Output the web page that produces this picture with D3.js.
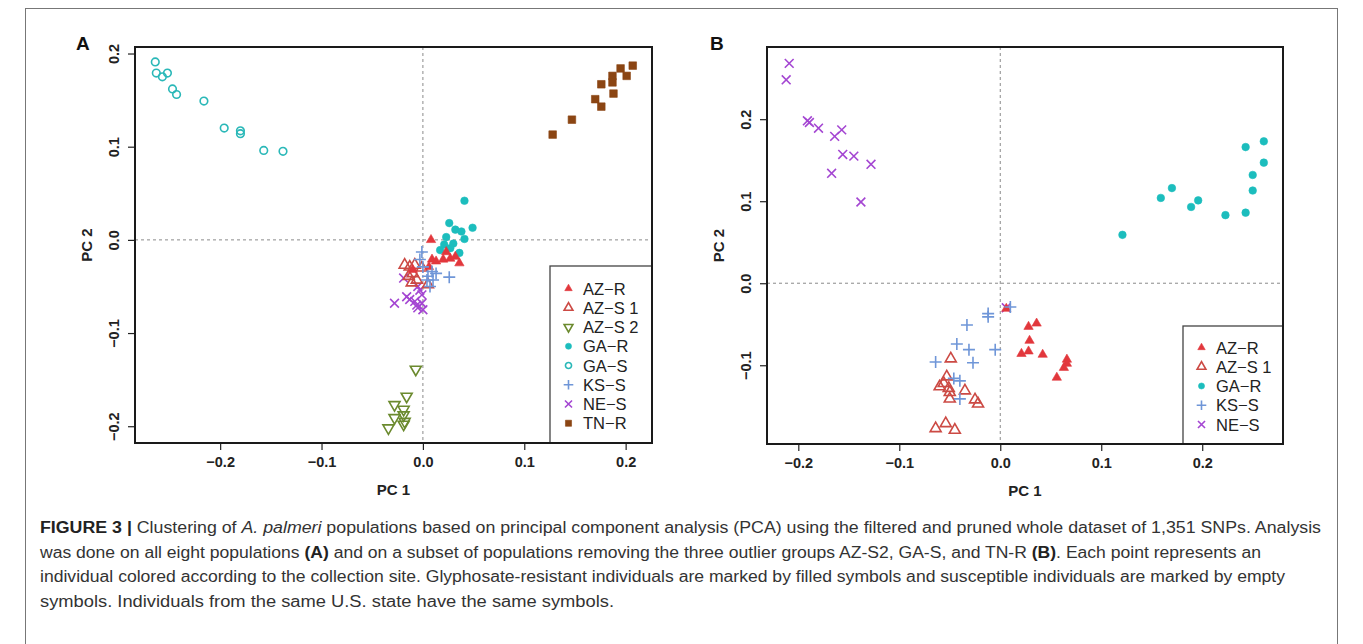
<!DOCTYPE html>
<html><head><meta charset="utf-8">
<script src="https://cdn.jsdelivr.net/npm/d3@7"></script>
<style>html,body{margin:0;padding:0;background:#fff;}svg{display:block;}
.f{font-family:'Liberation Sans',Arial,Helvetica,sans-serif;}
.cap{font-family:'Liberation Sans Narrow','Liberation Sans',Arial,sans-serif;}
</style>
</head><body>
<svg id="c" width="1363" height="644"></svg>
<script>
// ---------------- DATA ----------------
const xTicks = [-0.2, -0.1, 0.0, 0.1, 0.2];
const yTicks = [-0.2, -0.1, 0.0, 0.1, 0.2];
const legendA = ["AZ-R", "AZ-S 1", "AZ-S 2", "GA-R", "GA-S", "KS-S", "NE-S", "TN-R"];
const legendB = ["AZ-R", "AZ-S 1", "GA-R", "KS-S", "NE-S"];

// Panel A (all eight populations): [PC1, PC2]
const A_GA_S = [[-0.264,0.191],[-0.263,0.179],[-0.257,0.175],[-0.252,0.179],[-0.247,0.162],[-0.243,0.156],
  [-0.216,0.149],[-0.196,0.120],[-0.180,0.117],[-0.180,0.114],[-0.157,0.096],[-0.138,0.095]];
const A_TN_R = [[0.128,0.113],[0.147,0.129],[0.170,0.151],[0.176,0.143],[0.176,0.167],[0.187,0.176],
  [0.187,0.169],[0.188,0.157],[0.195,0.184],[0.201,0.176],[0.207,0.187]];
const A_AZ_S2 = [[-0.007,-0.139],[-0.016,-0.168],[-0.028,-0.177],[-0.019,-0.182],[-0.028,-0.191],
  [-0.019,-0.188],[-0.018,-0.195],[-0.034,-0.202],[-0.019,-0.198]];
const A_GA_R = [[0.041,0.042],[0.026,0.018],[0.032,0.011],[0.038,0.009],[0.049,0.013],[0.041,0.001],
  [0.023,0.003],[0.030,-0.004],[0.017,-0.011],[0.036,-0.014],[0.027,-0.009],[0.021,-0.005]];
const A_AZ_R = [[0.008,0.000],[0.009,-0.021],[0.023,-0.013],[0.027,-0.020],[0.036,-0.025],[0.020,-0.021],
  [0.032,-0.018],[0.013,-0.023],[0.006,-0.029],[-0.010,-0.032]];
const A_AZ_S1 = [[-0.018,-0.027],[-0.013,-0.029],[-0.010,-0.036],[-0.014,-0.039],[-0.006,-0.043],
  [0.005,-0.048],[-0.001,-0.030],[-0.008,-0.027],[-0.011,-0.046]];
const A_KS_S = [[-0.001,-0.013],[0.000,-0.029],[0.009,-0.034],[0.013,-0.036],[0.026,-0.040],[0.005,-0.039],
  [0.004,-0.043],[0.010,-0.043],[-0.003,-0.021],[0.007,-0.050]];
const A_NE_S = [[-0.028,-0.068],[-0.019,-0.041],[-0.016,-0.061],[-0.013,-0.064],[-0.008,-0.066],[-0.005,-0.073],
  [-0.003,-0.054],[-0.001,-0.059],[-0.006,-0.070],[-0.001,-0.068],[-0.005,-0.050],[0.000,-0.075]];

// Panel B (subset of five populations): [PC1, PC2]
const B_NE_S = [[-0.209,0.268],[-0.212,0.248],[-0.191,0.198],[-0.189,0.196],[-0.180,0.189],[-0.157,0.187],
  [-0.164,0.179],[-0.156,0.157],[-0.145,0.155],[-0.128,0.145],[-0.167,0.134],[-0.138,0.099],[0.006,-0.030]];
const B_GA_R = [[0.121,0.059],[0.159,0.104],[0.170,0.116],[0.189,0.093],[0.196,0.101],[0.223,0.083],
  [0.243,0.086],[0.250,0.113],[0.250,0.132],[0.243,0.166],[0.261,0.173],[0.261,0.147]];
const B_AZ_S1 = [[-0.049,-0.092],[-0.053,-0.114],[-0.060,-0.126],[-0.051,-0.128],[-0.050,-0.133],[-0.035,-0.131],
  [-0.050,-0.141],[-0.025,-0.142],[-0.022,-0.147],[-0.064,-0.177],[-0.054,-0.171],[-0.045,-0.179],[-0.056,-0.122]];
const B_AZ_R = [[0.006,-0.031],[0.028,-0.053],[0.036,-0.049],[0.029,-0.070],[0.021,-0.086],[0.028,-0.083],
  [0.042,-0.087],[0.066,-0.093],[0.066,-0.098],[0.063,-0.103],[0.056,-0.115]];
const B_KS_S = [[0.010,-0.029],[-0.012,-0.037],[-0.012,-0.041],[-0.033,-0.051],[-0.043,-0.074],[-0.031,-0.081],
  [-0.005,-0.081],[-0.064,-0.096],[-0.027,-0.097],[-0.046,-0.116],[-0.040,-0.119],[-0.040,-0.141]];

// ---------------- STYLES ----------------
const style = {
  "AZ-R":   {shape:"tri",  fill:true,  color:"#e2373c"},
  "AZ-S 1": {shape:"tri",  fill:false, color:"#cc4a44"},
  "AZ-S 2": {shape:"triD", fill:false, color:"#6b8a2e"},
  "GA-R":   {shape:"circ", fill:true,  color:"#1cbdbd"},
  "GA-S":   {shape:"circ", fill:false, color:"#2ab8b8"},
  "KS-S":   {shape:"plus", fill:false, color:"#6f96d8"},
  "NE-S":   {shape:"x",    fill:false, color:"#a446d2"},
  "TN-R":   {shape:"sq",   fill:true,  color:"#8b4513"}
};
const MINUS = "\u2212";
const fmt = v => (v < 0 ? MINUS : "") + Math.abs(v).toFixed(1);
const lab = s => s.replace("-", MINUS);

const svg = d3.select("#c");

function symPath(shape, cx, cy, k) {
  const p = d3.path();
  if (shape === "tri" || shape === "triD") {
    const s = 11 * k, h = s * Math.sqrt(3) / 2, d = shape === "tri" ? 1 : -1;
    p.moveTo(cx, cy - d * h * 2 / 3); p.lineTo(cx - s / 2, cy + d * h / 3); p.lineTo(cx + s / 2, cy + d * h / 3); p.closePath();
  } else if (shape === "circ") {
    const r = 3.8 * k; p.moveTo(cx + r, cy); p.arc(cx, cy, r, 0, 2 * Math.PI);
  } else if (shape === "plus") {
    const r = 6 * k; p.moveTo(cx - r, cy); p.lineTo(cx + r, cy); p.moveTo(cx, cy - r); p.lineTo(cx, cy + r);
  } else if (shape === "x") {
    const r = 4.4 * k; p.moveTo(cx - r, cy - r); p.lineTo(cx + r, cy + r); p.moveTo(cx - r, cy + r); p.lineTo(cx + r, cy - r);
  } else if (shape === "sq") {
    const r = 3.8 * k; p.rect(cx - r, cy - r, 2 * r, 2 * r);
  }
  return p.toString();
}
function drawSym(g, name, cx, cy, k) {
  const st = style[name];
  const f = st.fill ? st.color : "none";
  const sw = st.fill ? 0.6 : 1.6;
  let kk = k;
  if (st.fill && st.shape === "tri") kk = k * 0.85;
  g.append("path").attr("d", symPath(st.shape, cx, cy, kk))
    .attr("fill", f).attr("stroke", st.color).attr("stroke-width", sw);
}

function panel(cfg) {
  const x = d3.scaleLinear().domain(cfg.xd).range([cfg.x0, cfg.x1]);
  const y = d3.scaleLinear().domain(cfg.yd).range([cfg.y1, cfg.y0]);
  const g = svg.append("g").attr("class", "f");
  // reference lines
  g.append("line").attr("x1", cfg.x0).attr("x2", cfg.x1).attr("y1", y(0)).attr("y2", y(0))
    .attr("stroke", "#8a8a8a").attr("stroke-dasharray", "3,3").attr("stroke-width", 1);
  g.append("line").attr("x1", x(0)).attr("x2", x(0)).attr("y1", cfg.y0).attr("y2", cfg.y1)
    .attr("stroke", "#8a8a8a").attr("stroke-dasharray", "3,3").attr("stroke-width", 1);
  // points
  cfg.series.forEach(([name, pts]) => {
    pts.forEach(d => drawSym(g, name, x(d[0]), y(d[1]), 1));
  });
  // legend
  const lg = g.append("g");
  const L = cfg.legend;
  lg.append("rect").attr("x", L.x).attr("y", L.y).attr("width", cfg.x1 - L.x).attr("height", cfg.y1 - L.y)
    .attr("fill", "#fff").attr("stroke", "#444").attr("stroke-width", 1.3);
  L.items.forEach((n, i) => {
    const cy = L.first + i * L.step;
    drawSym(lg, n, L.x + 18.5, cy, 0.8);
    lg.append("text").attr("class", "f").attr("x", L.x + 33).attr("y", cy + 6).text(lab(n))
      .attr("font-size", 16.5).attr("fill", "#222");
  });
  // axes
  const xa = d3.axisBottom(x).tickValues(xTicks).tickFormat(fmt).tickSize(7).tickPadding(7);
  const ga = g.append("g").attr("transform", `translate(0,${cfg.y1})`).call(xa);
  const ya = d3.axisLeft(y).tickValues(yTicks.filter(v => v >= cfg.yd[0] && v <= cfg.yd[1])).tickFormat(fmt).tickSize(7).tickPadding(6);
  const gy = g.append("g").attr("transform", `translate(${cfg.x0},0)`).call(ya);
  [ga, gy].forEach(a => {
    a.attr("font-family", null);
    a.select(".domain").remove();
    a.selectAll(".tick line").attr("stroke", "#222").attr("stroke-width", 1.2);
    a.selectAll("text").attr("class", "f").attr("font-weight", "bold")
      .attr("font-size", 14.5).attr("fill", "#222");
  });
  gy.selectAll(".tick text").attr("text-anchor", "middle").attr("x", null)
    .attr("transform", "translate(-21,0) rotate(-90)").attr("y", 0).attr("dy", "0.32em");
  // box
  g.append("rect").attr("x", cfg.x0).attr("y", cfg.y0).attr("width", cfg.x1 - cfg.x0).attr("height", cfg.y1 - cfg.y0)
    .attr("fill", "none").attr("stroke", "#1a1a1a").attr("stroke-width", 2);
  // axis titles
  g.append("text").attr("x", (cfg.x0 + cfg.x1) / 2).attr("y", cfg.y1 + 52).attr("text-anchor", "middle")
    .text("PC 1").attr("font-weight", "bold").attr("font-size", 15).attr("fill", "#222");
  g.append("text").attr("transform", `translate(${cfg.x0 - 43},${(cfg.y0 + cfg.y1) / 2}) rotate(-90)`).attr("text-anchor", "middle")
    .text("PC 2").attr("font-weight", "bold").attr("font-size", 15).attr("fill", "#222");
  // panel letter
  g.append("text").attr("x", cfg.letterX).attr("y", 50).text(cfg.letter)
    .attr("font-weight", "bold").attr("font-size", 19).attr("fill", "#111");
}

// outer frame
svg.append("rect").attr("x", 25.5).attr("y", 8.5).attr("width", 1312).attr("height", 660)
  .attr("fill", "none").attr("stroke", "#777").attr("stroke-width", 1);

panel({
  letter: "A", letterX: 76,
  x0: 135, x1: 652, y0: 47, y1: 443,
  xd: [-0.284, 0.226], yd: [-0.218, 0.207],
  series: [["GA-S", A_GA_S], ["TN-R", A_TN_R], ["AZ-S 2", A_AZ_S2], ["GA-R", A_GA_R], ["NE-S", A_NE_S],
           ["AZ-S 1", A_AZ_S1], ["AZ-R", A_AZ_R], ["KS-S", A_KS_S]],
  legend: {x: 550, y: 266, first: 288.5, step: 19.25, items: legendA}
});
panel({
  letter: "B", letterX: 710,
  x0: 767, x1: 1283, y0: 47, y1: 444,
  xd: [-0.231, 0.280], yd: [-0.196, 0.288],
  series: [["GA-R", B_GA_R], ["NE-S", B_NE_S], ["AZ-S 1", B_AZ_S1], ["AZ-R", B_AZ_R], ["KS-S", B_KS_S]],
  legend: {x: 1183, y: 326, first: 347.5, step: 19.25, items: legendB}
});

// caption
const capLines = [
  {y: 533, w: 1281, parts: [["FIGURE 3 | ", "b"], ["Clustering of ", ""], ["A. palmeri", "i"],
    [" populations based on principal component analysis (PCA) using the filtered and pruned whole dataset of 1,351 SNPs. Analysis", ""]]},
  {y: 557.5, w: 1221, parts: [["was done on all eight populations ", ""], ["(A)", "b"],
    [" and on a subset of populations removing the three outlier groups AZ-S2, GA-S, and TN-R ", ""], ["(B)", "b"], [". Each point represents an", ""]]},
  {y: 582, w: 1245, parts: [["individual colored according to the collection site. Glyphosate-resistant individuals are marked by filled symbols and susceptible individuals are marked by empty", ""]]},
  {y: 606.5, w: 574, parts: [["symbols. Individuals from the same U.S. state have the same symbols.", ""]]}
];
capLines.forEach(l => {
  const t = svg.append("text").attr("class", "cap").attr("x", 40).attr("y", l.y)
    .attr("font-size", 16).attr("fill", "#333")
    .attr("textLength", l.w).attr("lengthAdjust", "spacingAndGlyphs");
  l.parts.forEach(([s, f]) => {
    const ts = t.append("tspan").text(s);
    if (f === "b") ts.attr("font-weight", "bold").attr("fill", "#222");
    if (f === "i") ts.attr("font-style", "italic");
  });
});
</script>
</body></html>
